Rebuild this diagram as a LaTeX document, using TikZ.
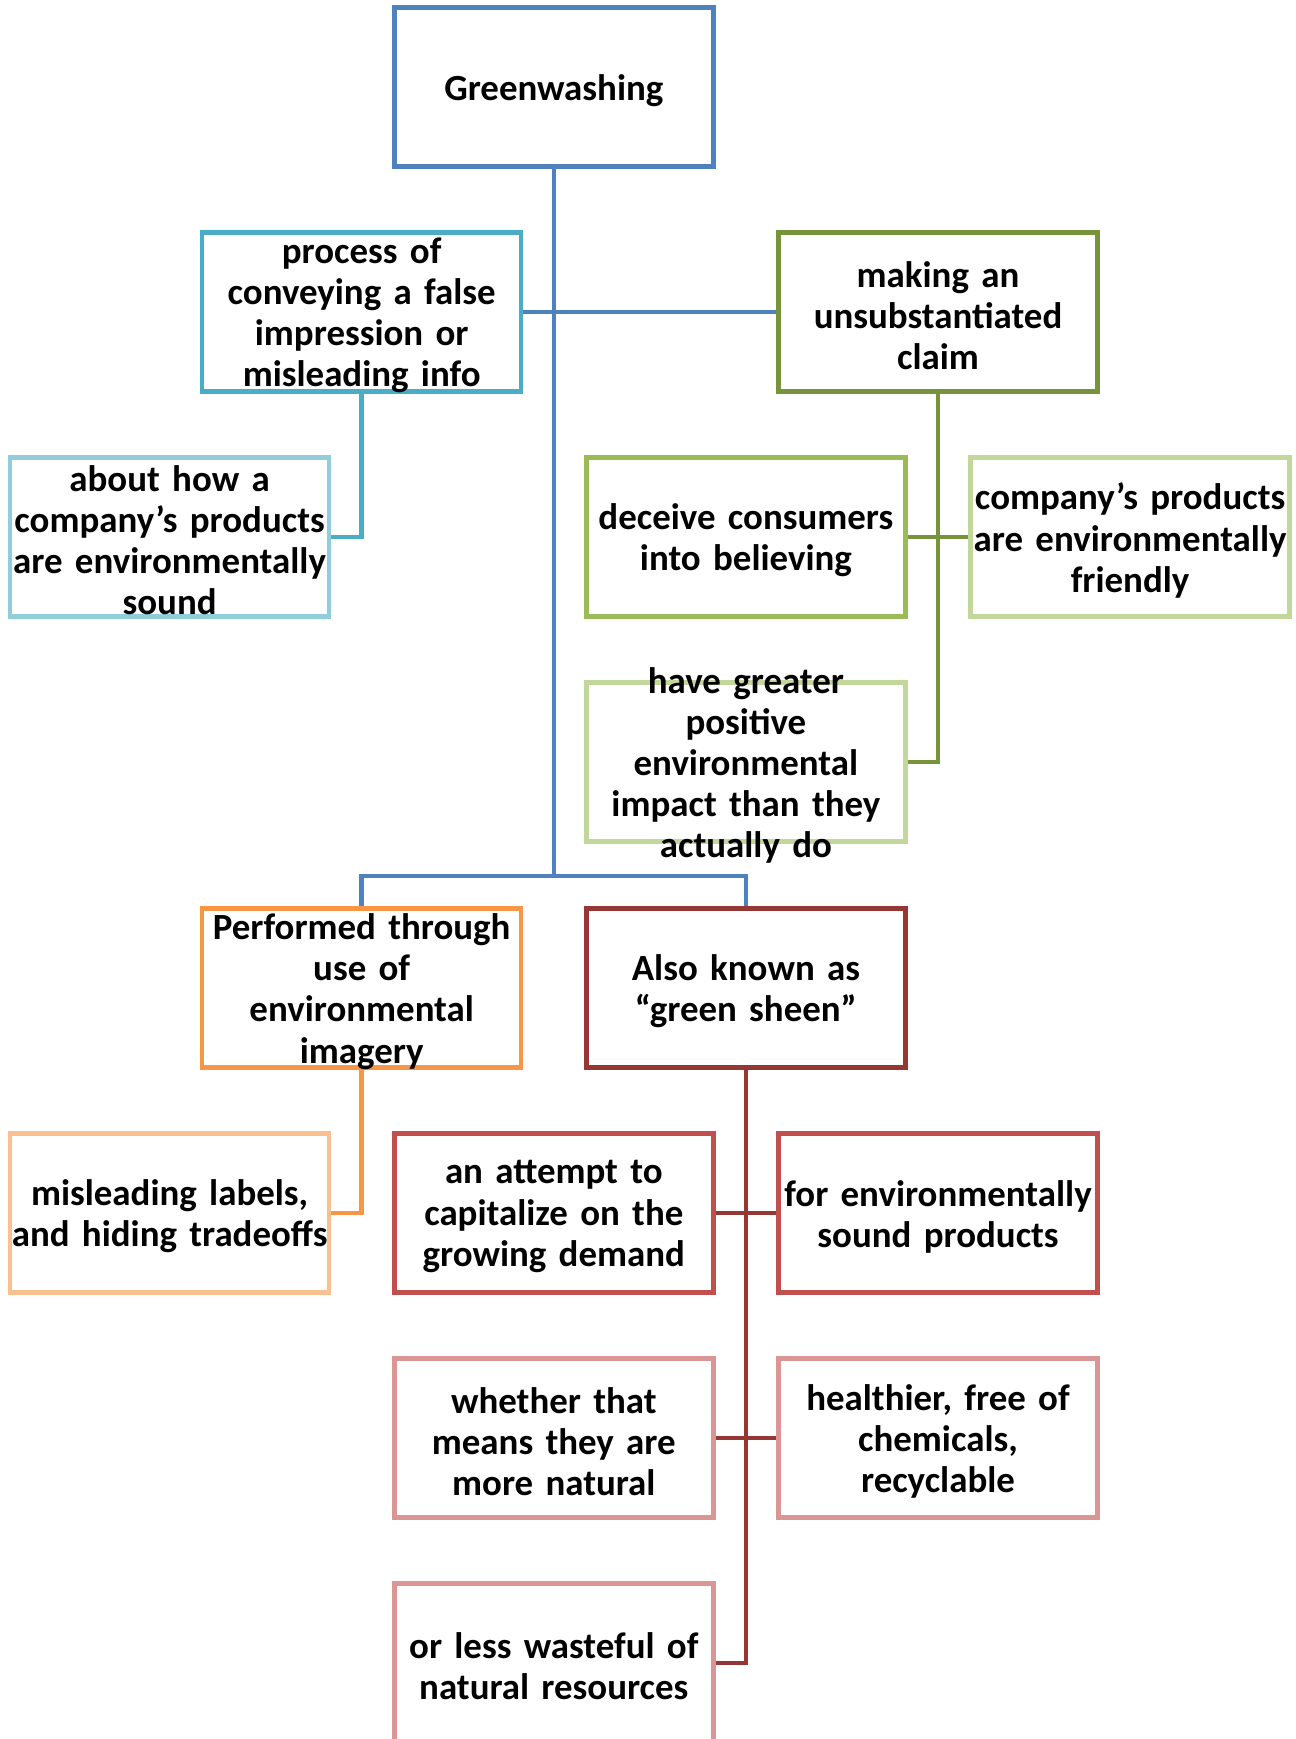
\documentclass[tikz,border=0pt]{standalone}
\usepackage{fontspec}
\setmainfont{Carlito}
\usetikzlibrary{shapes}

\definecolor{cBlue}{HTML}{4F81BD}
\definecolor{cTeal}{HTML}{4BACC6}
\definecolor{cTealL}{HTML}{92CDDC}
\definecolor{cOlive}{HTML}{77933C}
\definecolor{cGreen}{HTML}{9BBB59}
\definecolor{cGreenL}{HTML}{C3D69B}
\definecolor{cOrange}{HTML}{F79646}
\definecolor{cOrangeL}{HTML}{FAC08F}
\definecolor{cRedD}{HTML}{953735}
\definecolor{cRed}{HTML}{C0504D}
\definecolor{cRedL}{HTML}{D99694}

\begin{document}
\begin{tikzpicture}[x=0.1mm, y=-0.1mm]

% Define styles
\tikzstyle{box} = [rectangle, fill=white, line width=0.45mm, minimum width=31.9mm, minimum height=15.9mm, inner sep=0pt]
\tikzstyle{txt} = [text width=34mm, align=center, inner sep=0pt, yshift=-0.35mm, font=\bfseries\fontsize{10.5pt}{11.7pt}\selectfont]
\tikzstyle{link} = [line width=0.45mm]

\useasboundingbox (0,0) rectangle (1296,1739);

% Nodes
\node[box, draw=cBlue, label={[txt]center:Greenwashing}] (green) at (553.8,87) {};

\node[box, draw=cTeal, label={[txt]center:process of\\conveying a false\\impression or\\misleading info}] (proc) at (361.7,312) {};
\node[box, draw=cOlive, label={[txt]center:making an\\unsubstantiated\\claim}] (claim) at (938,312) {};

\node[box, draw=cTealL, label={[txt]center:about how a\\company’s products\\are environmentally\\sound}] (about) at (169.6,537) {};
\node[box, draw=cGreen, label={[txt]center:deceive consumers\\into believing}] (deceive) at (745.9,537) {};
\node[box, draw=cGreenL, label={[txt]center:company’s products\\are environmentally\\friendly}] (friendly) at (1130.1,537) {};

\node[box, draw=cGreenL, label={[txt]center:have greater\\positive\\environmental\\impact than they\\actually do}] (impact) at (745.9,762) {};

\node[box, draw=cOrange, label={[txt]center:Performed through\\use of\\environmental\\imagery}] (imagery) at (361.7,988) {};
\node[box, draw=cRedD, label={[txt]center:Also known as\\“green sheen”}] (sheen) at (745.9,988) {};

\node[box, draw=cOrangeL, label={[txt]center:misleading labels,\\and hiding tradeoffs}] (labels) at (169.6,1213) {};
\node[box, draw=cRed, label={[txt]center:an attempt to\\capitalize on the\\growing demand}] (attempt) at (553.8,1213) {};
\node[box, draw=cRed, label={[txt]center:for environmentally\\sound products}] (demand) at (938,1213) {};

\node[box, draw=cRedL, label={[txt]center:whether that\\means they are\\more natural}] (natural) at (553.8,1438) {};
\node[box, draw=cRedL, label={[txt]center:healthier, free of\\chemicals,\\recyclable}] (healthier) at (938,1438) {};

\node[box, draw=cRedL, label={[txt]center:or less wasteful of\\natural resources}] (wasteful) at (553.8,1663) {};

% Connectors
\coordinate (split) at (553.8,876);
\draw[link, cBlue] (green.south) -- (split);
\draw[link, cBlue] (imagery.north) |- (split) -| (sheen.north);
\draw[link, cBlue] (proc.east) -- (claim.west);

\draw[link, cTeal] (proc.south) |- (about.east);

\draw[link, cOlive] (claim.south) |- (impact.east);
\draw[link, cOlive] (deceive.east) -- (friendly.west);

\draw[link, cOrange] (imagery.south) |- (labels.east);

\draw[link, cRedD] (sheen.south) |- (wasteful.east);
\draw[link, cRedD] (attempt.east) -- (demand.west);
\draw[link, cRedD] (natural.east) -- (healthier.west);

\end{tikzpicture}
\end{document}
